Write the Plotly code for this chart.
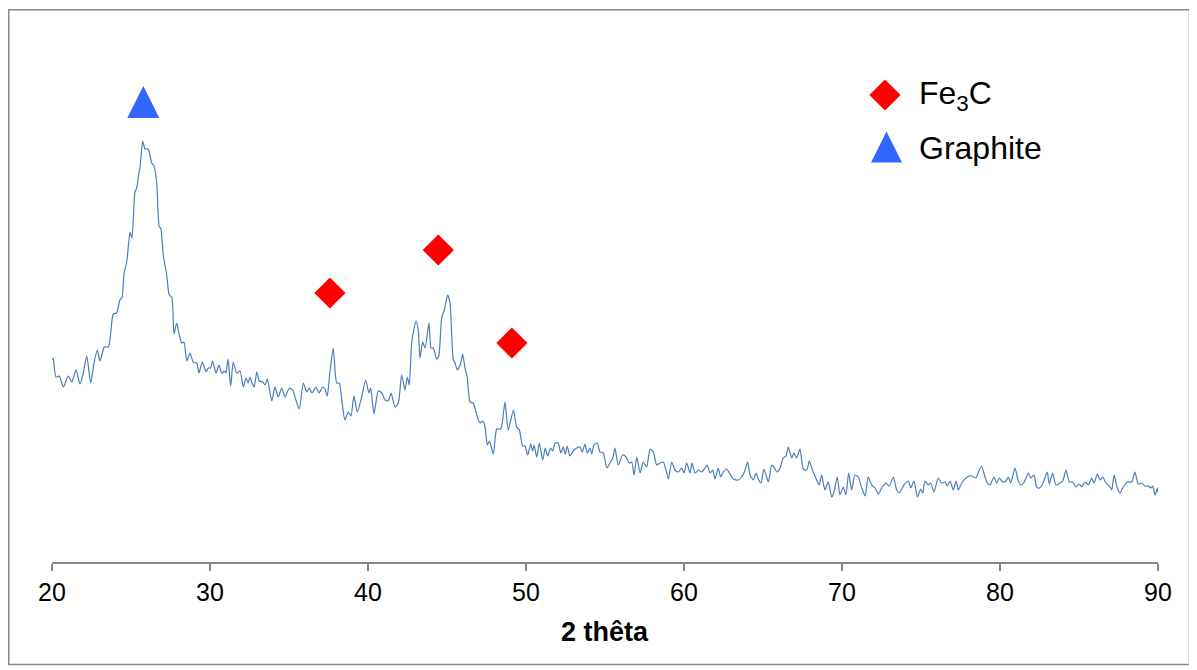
import plotly.graph_objects as go

# ---- data ----
two_theta = [
    20.04, 20.08, 20.25, 20.46, 20.72, 21.03, 21.25, 21.52, 21.77, 21.98, 22.20, 22.45, 22.66, 22.87, 23.04,
    23.31, 23.56, 23.67, 23.88, 24.09, 24.30, 24.43, 24.56, 24.73, 24.94, 25.06, 25.25, 25.36, 25.51, 25.57,
    25.74, 25.89, 26.09, 26.31, 26.46, 26.63, 26.79, 26.88, 27.04, 27.26, 27.42, 27.58, 27.72, 27.89, 28.06,
    28.21, 28.35, 28.53, 28.73, 28.94, 29.16, 29.30, 29.51, 29.75, 29.89, 30.04, 30.17, 30.38, 30.57, 30.74,
    30.93, 31.01, 31.14, 31.31, 31.47, 31.69, 31.90, 32.11, 32.28, 32.41, 32.53, 32.66, 32.80, 32.96, 33.12,
    33.34, 33.48, 33.63, 33.91, 34.11, 34.32, 34.54, 34.75, 35.02, 35.23, 35.44, 35.65, 35.91, 36.12, 36.28,
    36.46, 36.71, 36.90, 37.13, 37.28, 37.42, 37.59, 37.80, 38.02, 38.18, 38.34, 38.54, 38.75, 38.92, 39.11,
    39.32, 39.60, 39.85, 40.06, 40.17, 40.38, 40.65, 40.87, 41.08, 41.28, 41.46, 41.71, 41.92, 42.13, 42.34,
    42.49, 42.61, 42.77, 43.04, 43.18, 43.29, 43.46, 43.61, 43.86, 43.99, 44.13, 44.35, 44.49, 44.66, 44.83,
    45.04, 45.19, 45.40, 45.51, 45.65, 45.87, 45.99, 46.14, 46.28, 46.46, 46.66, 46.88, 47.09, 47.26, 47.41,
    47.55, 47.68, 47.93, 48.15, 48.40, 48.52, 48.67, 48.88, 49.20, 49.41, 49.58, 49.79, 49.94, 50.11, 50.30,
    50.42, 50.51, 50.68, 50.84, 51.06, 51.22, 51.37, 51.56, 51.69, 51.84, 52.04, 52.20, 52.36, 52.49, 52.61,
    52.78, 52.99, 53.21, 53.42, 53.56, 53.73, 53.88, 54.05, 54.16, 54.30, 54.51, 54.68, 54.89, 55.11, 55.32,
    55.49, 55.63, 55.84, 56.12, 56.33, 56.54, 56.69, 56.84, 57.01, 57.22, 57.42, 57.64, 57.85, 58.06, 58.27,
    58.48, 58.69, 58.86, 59.01, 59.22, 59.43, 59.64, 59.85, 60.00, 60.17, 60.38, 60.51, 60.70, 60.91, 61.12,
    61.33, 61.47, 61.65, 61.82, 61.96, 62.17, 62.32, 62.49, 62.70, 62.87, 63.12, 63.44, 63.65, 63.82, 64.03,
    64.18, 64.39, 64.56, 64.70, 64.87, 65.06, 65.34, 65.55, 65.70, 65.87, 66.08, 66.28, 66.46, 66.60, 66.82,
    66.96, 67.13, 67.34, 67.55, 67.77, 67.93, 68.15, 68.40, 68.56, 68.71, 68.92, 69.13, 69.35, 69.49, 69.70,
    69.87, 70.08, 70.25, 70.42, 70.61, 70.82, 71.03, 71.25, 71.46, 71.66, 71.88, 72.09, 72.30, 72.51, 72.78,
    72.99, 73.25, 73.46, 73.63, 73.92, 74.20, 74.35, 74.56, 74.77, 74.98, 75.11, 75.25, 75.46, 75.61, 75.82,
    76.09, 76.31, 76.52, 76.66, 76.84, 77.04, 77.22, 77.36, 77.58, 77.93, 78.21, 78.48, 78.63, 78.84, 79.01,
    79.20, 79.37, 79.62, 79.79, 79.96, 80.17, 80.38, 80.53, 80.68, 80.95, 81.16, 81.33, 81.54, 81.79, 81.94,
    82.15, 82.32, 82.49, 82.70, 82.99, 83.12, 83.33, 83.54, 83.80, 83.97, 84.18, 84.39, 84.60, 84.81, 85.02,
    85.17, 85.38, 85.59, 85.80, 85.95, 86.16, 86.33, 86.50, 86.71, 86.92, 87.07, 87.22, 87.42, 87.59, 87.80,
    88.06, 88.34, 88.54, 88.75, 88.97, 89.18, 89.39, 89.54, 89.67, 89.81, 89.96, 90.00,
]
intensity = [
    202, 204, 185, 186, 175, 186, 180, 192, 178, 189, 206, 179, 199, 212, 201,
    215, 215, 222, 248, 249, 262, 264, 289, 300, 330, 324, 370, 374, 390, 394,
    421, 413, 413, 399, 396, 379, 335, 334, 307, 287, 267, 265, 228, 239, 227,
    219, 220, 201, 209, 200, 199, 189, 200, 190, 194, 194, 201, 189, 197, 189,
    191, 189, 203, 176, 200, 189, 191, 175, 184, 179, 185, 179, 175, 190, 181,
    180, 177, 183, 161, 175, 165, 174, 165, 174, 172, 162, 153, 179, 170, 174,
    169, 175, 169, 175, 173, 166, 190, 214, 179, 179, 162, 142, 150, 146, 166,
    150, 165, 182, 169, 174, 148, 171, 169, 162, 161, 169, 155, 159, 187, 172,
    185, 177, 220, 241, 232, 204, 220, 214, 239, 214, 214, 203, 207, 244, 252,
    267, 259, 202, 199, 192, 199, 208, 194, 185, 160, 159, 147, 139, 141, 135,
    117, 121, 108, 133, 133, 142, 160, 132, 152, 135, 132, 116, 116, 107, 118,
    111, 117, 105, 119, 102, 114, 106, 114, 111, 119, 119, 109, 115, 108, 116,
    106, 111, 114, 115, 110, 118, 109, 114, 108, 117, 119, 110, 109, 94, 99,
    104, 114, 97, 107, 105, 99, 100, 87, 105, 89, 100, 95, 113, 110, 97,
    99, 100, 92, 83, 100, 92, 90, 94, 89, 99, 89, 99, 89, 92, 90,
    94, 97, 89, 92, 83, 94, 85, 90, 93, 89, 83, 82, 85, 90, 100,
    87, 82, 89, 83, 79, 93, 80, 97, 95, 90, 94, 104, 106, 115, 104,
    109, 104, 113, 93, 92, 101, 91, 82, 77, 87, 72, 80, 65, 70, 85,
    67, 75, 67, 89, 72, 87, 85, 74, 66, 85, 77, 74, 68, 74, 79,
    76, 85, 72, 69, 77, 81, 74, 81, 65, 73, 69, 81, 77, 79, 70,
    84, 79, 80, 76, 81, 72, 81, 72, 79, 85, 86, 84, 90, 96, 87,
    79, 77, 85, 79, 84, 80, 81, 85, 79, 94, 81, 77, 80, 89, 84,
    87, 75, 74, 78, 90, 78, 89, 77, 79, 81, 92, 80, 80, 75, 78,
    75, 80, 77, 84, 79, 88, 82, 85, 79, 76, 72, 87, 74, 69, 75,
    80, 80, 90, 78, 79, 76, 76, 74, 76, 67, 74, 69,
]

fe3c_theta = [37.59, 44.45, 49.11]
fe3c_marker_y = [269, 312, 219]
graphite_theta = [25.78]
graphite_marker_y = [476]

x_ticks = [20, 30, 40, 50, 60, 70, 80, 90]
legend_labels = ["Fe<sub>3</sub>C", "Graphite"]

# ---- figure ----
# the page body adds an 8px margin, so the figure is drawn 8px smaller / offset
OFF = 8
W, H = 1197 - OFF, 670 - OFF
ML, MR, MT, MB = 52 - OFF, 39, 20 - OFF, 108
pw, ph = W - ML - MR, H - MT - MB


def px_to_paper_x(px):  # px in screenshot coordinates
    return (px - OFF - ML) / pw


def py_to_paper_y(py):  # py in screenshot coordinates
    return (H - MB - (py - OFF)) / ph


FONT = "Liberation Sans, Arial, sans-serif"

fig = go.Figure()

fig.add_trace(go.Scatter(
    x=two_theta, y=intensity, mode="lines",
    line=dict(color="#4a7ebb", width=1.2, shape="spline", smoothing=0.6),
    showlegend=False, hoverinfo="skip",
))
fig.add_trace(go.Scatter(
    x=fe3c_theta, y=fe3c_marker_y, mode="markers",
    marker=dict(symbol="diamond", size=24, color="#ff0000", line=dict(width=0)),
    showlegend=False,
))
fig.add_trace(go.Scatter(
    x=graphite_theta, y=graphite_marker_y, mode="markers",
    marker=dict(symbol="arrow-up", size=32, color="#3366ff", line=dict(width=0)),
    showlegend=False,
))

# custom legend (keys drawn on an overlay axis spanning the plot area)
fig.add_trace(go.Scatter(
    x=[px_to_paper_x(885)], y=[py_to_paper_y(95)], xaxis="x2", yaxis="y2", mode="markers",
    marker=dict(symbol="diamond", size=24, color="#ff0000", line=dict(width=0)),
    showlegend=False, hoverinfo="skip",
))
fig.add_trace(go.Scatter(
    x=[px_to_paper_x(886.5)], y=[py_to_paper_y(131.5)], xaxis="x2", yaxis="y2", mode="markers",
    marker=dict(symbol="arrow-up", size=31, color="#3366ff", line=dict(width=0)),
    showlegend=False, hoverinfo="skip",
))
for label, py in zip(legend_labels, [95, 148]):
    fig.add_annotation(
        x=px_to_paper_x(917), y=py_to_paper_y(py), xref="paper", yref="paper",
        text=label, showarrow=False, xanchor="left", yanchor="middle",
        font=dict(family=FONT, size=32, color="#000000"),
    )

# x-axis title
fig.add_annotation(
    x=0.5, y=py_to_paper_y(632), xref="paper", yref="paper",
    text="<b>2 thêta</b>", showarrow=False, xanchor="center", yanchor="middle",
    font=dict(family=FONT, size=27, color="#000000"),
)

# outer chart border
fig.add_shape(
    type="rect", xref="paper", yref="paper",
    x0=px_to_paper_x(8.75), x1=px_to_paper_x(1189.5),
    y0=py_to_paper_y(664.5), y1=py_to_paper_y(9.75),
    line=dict(color="#888888", width=1.5), fillcolor="rgba(0,0,0,0)", layer="below",
)

fig.update_layout(
    width=W, height=H,
    margin=dict(l=ML, r=MR, t=MT, b=MB, pad=0),
    paper_bgcolor="white", plot_bgcolor="white",
    font=dict(family=FONT, color="#000000"),
    xaxis=dict(
        range=[20, 90], tickvals=x_ticks, ticktext=[str(t) for t in x_ticks],
        showgrid=False, zeroline=False,
        showline=True, linecolor="#888888", linewidth=1.5,
        ticks="outside", ticklen=7, tickwidth=1.5, tickcolor="#888888",
        tickfont=dict(size=25, color="#000000"),
    ),
    yaxis=dict(range=[0, ph], visible=False, showgrid=False, zeroline=False),
    xaxis2=dict(range=[0, 1], overlaying="x", visible=False, domain=[0, 1]),
    yaxis2=dict(range=[0, 1], overlaying="y", visible=False, domain=[0, 1]),
    showlegend=False,
)

fig.write_html("out.html")
